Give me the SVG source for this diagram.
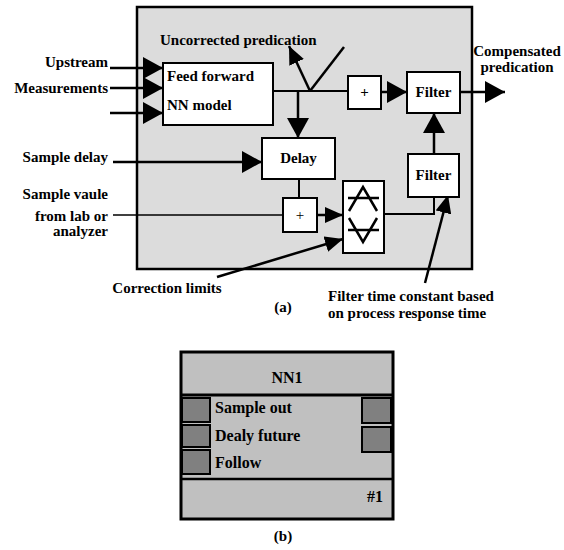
<svg xmlns="http://www.w3.org/2000/svg" width="564" height="550" viewBox="0 0 564 550">
<style>
  .t { font-family: "Liberation Serif", "Times New Roman", serif; font-weight: bold; font-size: 15px; fill: #000; }
  .tb { font-family: "Liberation Serif", "Times New Roman", serif; font-weight: bold; font-size: 16px; fill: #000; }
  .box { fill: #fff; stroke: #000; stroke-width: 2; }
  .ln { fill: none; stroke: #000; stroke-width: 2.5; }
  .thin { fill: none; stroke: #000; stroke-width: 2; }
  .port { fill: #808080; stroke: #000; stroke-width: 2; }
</style>
<defs>
  <marker id="ah" markerUnits="userSpaceOnUse" markerWidth="20" markerHeight="22" refX="20" refY="11" orient="auto">
    <path d="M0,0 L20,11 L0,22 z" fill="#000"/>
  </marker>
  <marker id="ahs" markerUnits="userSpaceOnUse" markerWidth="18" markerHeight="16" refX="18" refY="8" orient="auto">
    <path d="M0,0 L18,8 L0,16 z" fill="#000"/>
  </marker>
</defs>

<g id="frame">
  <rect x="137" y="7" width="335" height="262" fill="#dcdcdc" stroke="#000" stroke-width="2.5"/>
</g>

<g id="connectors">
  <line class="ln" x1="110" y1="68" x2="163" y2="68" marker-end="url(#ah)"/>
  <line class="ln" x1="110" y1="88" x2="163" y2="88" marker-end="url(#ah)"/>
  <line class="ln" x1="110" y1="113" x2="163" y2="113" marker-end="url(#ah)"/>
  <line class="thin" x1="273" y1="91" x2="348" y2="91"/>
  <line class="ln" x1="310" y1="91" x2="344" y2="47"/>
  <line class="ln" x1="310" y1="91" x2="289" y2="46" marker-end="url(#ahs)"/>
  <line class="ln" x1="298" y1="91" x2="298" y2="138" marker-end="url(#ah)"/>
  <line class="ln" x1="381" y1="92" x2="407" y2="92" marker-end="url(#ah)"/>
  <line class="ln" x1="460" y1="92" x2="505" y2="92" marker-end="url(#ah)"/>
  <line class="ln" x1="434" y1="154" x2="434" y2="113" marker-end="url(#ah)"/>
  <line class="ln" x1="113" y1="162" x2="262" y2="162" marker-end="url(#ah)"/>
  <line x1="113" y1="215" x2="283" y2="215" stroke="#000" stroke-width="1.5"/>
  <line class="thin" x1="299" y1="179" x2="299" y2="198"/>
  <line class="ln" x1="317" y1="215" x2="343" y2="215" marker-end="url(#ahs)"/>
  <polyline class="thin" points="384,214 434,214 434,197"/>
  <line class="ln" x1="217" y1="277" x2="343" y2="239" marker-end="url(#ahs)"/>
  <line class="ln" x1="425" y1="283" x2="448" y2="195" marker-end="url(#ahs)"/>
</g>

<g id="ffnn">
  <rect class="box" x="163" y="63" width="110" height="62"/>
  <text class="t" x="167" y="81">Feed forward</text>
  <text class="t" x="167" y="110">NN model</text>
</g>

<g id="plus1">
  <rect class="box" x="348" y="76" width="33" height="33"/>
  <text class="t" x="364.5" y="97" text-anchor="middle">+</text>
</g>

<g id="filter1">
  <rect class="box" x="407" y="72" width="53" height="41"/>
  <text class="t" x="433.5" y="97" text-anchor="middle">Filter</text>
</g>

<g id="delay">
  <rect class="box" x="262" y="138" width="73" height="41"/>
  <text class="t" x="298.5" y="163" text-anchor="middle">Delay</text>
</g>

<g id="filter2">
  <rect class="box" x="408" y="154" width="51" height="43"/>
  <text class="t" x="433.5" y="180" text-anchor="middle">Filter</text>
</g>

<g id="plus2">
  <rect class="box" x="283" y="198" width="34" height="34"/>
  <text x="300" y="220" text-anchor="middle" style="font-family:'Liberation Serif',serif;font-size:15px">+</text>
</g>

<g id="limiter">
  <rect class="box" x="343" y="181" width="41" height="72"/>
  <line class="ln" x1="348" y1="198" x2="379" y2="198" stroke-width="2"/>
  <polyline class="ln" stroke-width="2" points="349,211 363,187 377,211"/>
  <line class="ln" x1="348" y1="230" x2="379" y2="230" stroke-width="2"/>
  <polyline class="ln" stroke-width="2" points="349,218 363,242 377,218"/>
</g>

<g id="labels-a">
  <text class="t" x="160" y="45">Uncorrected predication</text>
  <text class="t" x="108" y="67" text-anchor="end">Upstream</text>
  <text class="t" x="108" y="93" text-anchor="end">Measurements</text>
  <text class="t" x="108" y="162" text-anchor="end">Sample delay</text>
  <text class="t" x="108" y="199" text-anchor="end">Sample vaule</text>
  <text class="t" x="108" y="221" text-anchor="end">from lab or</text>
  <text class="t" x="108" y="236" text-anchor="end">analyzer</text>
  <text class="t" x="517" y="56" text-anchor="middle">Compensated</text>
  <text class="t" x="517" y="72" text-anchor="middle">predication</text>
  <text class="t" x="167" y="293" text-anchor="middle">Correction limits</text>
  <text class="t" x="328" y="301">Filter time constant based</text>
  <text class="t" x="328" y="318">on process response time</text>
  <text class="t" x="283" y="312" text-anchor="middle">(a)</text>
</g>

<g id="nn1">
  <rect x="181" y="352" width="212" height="167" fill="#c0c0c0" stroke="#000" stroke-width="3"/>
  <line x1="181" y1="395" x2="393" y2="395" stroke="#000" stroke-width="3"/>
  <line x1="181" y1="479" x2="393" y2="479" stroke="#000" stroke-width="2.5"/>
  <text class="tb" x="287" y="383" text-anchor="middle">NN1</text>
  <rect class="port" x="182" y="398" width="28" height="24"/>
  <rect class="port" x="182" y="425" width="28" height="22"/>
  <rect class="port" x="182" y="450" width="28" height="24"/>
  <rect class="port" x="362" y="398" width="29" height="25"/>
  <rect class="port" x="362" y="427" width="29" height="25"/>
  <text class="tb" x="215" y="413">Sample out</text>
  <text class="tb" x="215" y="441">Dealy future</text>
  <text class="tb" x="215" y="468">Follow</text>
  <text class="tb" x="383" y="502" text-anchor="end">#1</text>
</g>
<text class="t" x="283" y="541" text-anchor="middle">(b)</text>
</svg>
